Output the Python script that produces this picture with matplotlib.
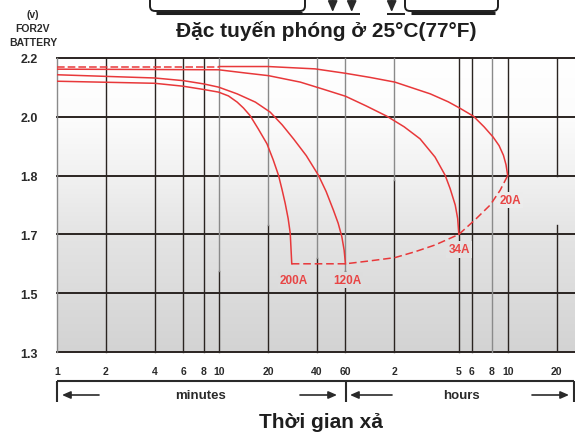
import numpy as np
import matplotlib
matplotlib.use("Agg")
import matplotlib.pyplot as plt
from matplotlib.colors import LinearSegmentedColormap
from matplotlib.patches import FancyBboxPatch, FancyArrowPatch
from matplotlib.lines import Line2D
from matplotlib.ticker import NullLocator

plt.rcParams['font.family'] = ['Liberation Sans', 'DejaVu Sans']
plt.rcParams['font.weight'] = 'bold'

# voltage ticks (evenly spaced on the chart although values are not)
volt_ticks = [1.3, 1.5, 1.7, 1.8, 2.0, 2.2]
volt_labels = ['1.3', '1.5', '1.7', '1.8', '2.0', '2.2']

# time ticks in minutes
time_ticks = [1, 2, 4, 6, 8, 10, 20, 40, 60, 120, 300, 360, 480, 600, 1200]
time_labels = ['1', '2', '4', '6', '8', '10', '20', '40', '60',
               '2', '5', '6', '8', '10', '20']

# discharge curves: time (min) / voltage per cell
t_200 = [1, 4, 6, 8, 9.9, 11.4, 12.9, 14.1, 15.5, 17.4, 19.7, 21.5, 23.2,
         24.4, 25.5, 26.6, 27.4, 28]
v_200 = [2.121, 2.114, 2.104, 2.093, 2.084, 2.071, 2.050, 2.030, 2.004, 1.959,
         1.908, 1.854, 1.801, 1.776, 1.753, 1.727, 1.702, 1.60]

t_120 = [1, 4, 6, 8, 9.9, 12.9, 16.7, 20.6, 24.4, 28.7, 34.4, 40.9, 45.6,
         50.6, 54.1, 57, 58.9, 60]
v_120 = [2.143, 2.132, 2.123, 2.112, 2.101, 2.078, 2.050, 2.016, 1.973, 1.925,
         1.868, 1.801, 1.773, 1.741, 1.719, 1.692, 1.646, 1.60]

t_34 = [1, 9.9, 14.5, 20.1, 31.6, 43.1, 60, 80.5, 108, 138, 173, 214, 247,
        265, 285, 295, 300]
v_34 = [2.162, 2.160, 2.149, 2.140, 2.118, 2.095, 2.070, 2.037, 2.002, 1.966,
        1.925, 1.863, 1.801, 1.778, 1.750, 1.727, 1.70]

t_20_dash = [1, 10]
v_20_dash = [2.168, 2.168]
t_20 = [10, 20, 39, 60, 85, 121, 200, 258, 305, 369, 429, 488, 531, 565, 586, 600]
v_20 = [2.171, 2.171, 2.163, 2.148, 2.134, 2.118, 2.078, 2.051, 2.029, 2.002,
        1.966, 1.931, 1.902, 1.869, 1.837, 1.80]

# cut-off voltage line joining the curve ends
t_end = [28, 60, 85, 121, 161, 214, 300, 378, 468, 539, 600]
v_end = [1.60, 1.60, 1.610, 1.621, 1.641, 1.664, 1.70, 1.725, 1.750, 1.775, 1.80]

# curve labels
lab_text = ['200A', '120A', '34A', '20A']
lab_t = [29.0, 61.5, 301, 622]
lab_v = [1.544, 1.544, 1.649, 1.758]

red = '#e8383a'
grid_c = '#2a2421'
gray_c = '#8a8a8a'
txt_c = '#2a2a2a'

ypos = np.arange(len(volt_ticks))


def fwd(v):
    return np.interp(v, volt_ticks, ypos)


def inv(p):
    return np.interp(p, ypos, volt_ticks)


fig = plt.figure(figsize=(5.75, 4.35), dpi=100)
pos = [57 / 575, 1 - 353 / 435, 1 - 57 / 575, (353 - 59) / 435]

# background gradient
cmap = LinearSegmentedColormap.from_list(
    'bg', [(0, '#d3d3d3'), (0.4, '#e4e4e4'), (0.6, '#f1f1f1'),
           (0.8, '#fcfcfc'), (1.0, '#ffffff')])
bg = fig.add_axes(pos, zorder=0)
bg.imshow(np.linspace(0, 1, 256).reshape(-1, 1), aspect='auto', cmap=cmap,
          extent=[0, 1, 0, 1], origin='lower')
bg.axis('off')

ax = fig.add_axes(pos, zorder=1)
ax.patch.set_visible(False)
ax.set_xscale('log')
ax.set_yscale('function', functions=(fwd, inv))
ax.set_xlim(1, 1560)
ax.set_ylim(1.3, 2.2)
for s in ax.spines.values():
    s.set_visible(False)

# grid lines
for v in volt_ticks:
    ax.axhline(v, color=grid_c, lw=1.4, zorder=2, clip_on=False)

gray_top = {1: 1.3, 10: 1.576, 20: 1.716, 40: 1.619, 60: 1.576, 120: 1.792, 480: 1.3}
for t in time_ticks:
    split = gray_top.get(t, 2.2)
    if t == 1200:
        ax.plot([t, t], [1.3, 1.716], color=grid_c, lw=1.0, zorder=2)
        ax.plot([t, t], [1.8, 2.2], color=grid_c, lw=1.0, zorder=2)
        continue
    if split > 1.3:
        ax.plot([t, t], [1.3, split], color=grid_c, lw=1.0, zorder=2, clip_on=False)
    if split < 2.2:
        ax.plot([t, t], [split, 2.2], color=gray_c, lw=1.0, zorder=2, clip_on=False)

# curves
for tt, vv in [(t_200, v_200), (t_120, v_120), (t_34, v_34), (t_20, v_20)]:
    ax.plot(tt, vv, color=red, lw=1.1, zorder=4, solid_joinstyle='round')
ax.plot(t_20_dash, v_20_dash, color=red, lw=1.1, ls=(0, (5, 2)), zorder=4)
ax.plot(t_end, v_end, color=red, lw=1.1, ls=(0, (5, 2.5)), zorder=4)

for s, t, v in zip(lab_text, lab_t, lab_v):
    ax.text(t, v, s, color='#e84545', fontsize=8.5, fontweight='bold',
            ha='center', va='center', zorder=3,
            bbox=dict(facecolor=cmap(fwd(v) / 5), edgecolor='none', pad=1.5))

ax.set_yticks(volt_ticks, labels=volt_labels)
ax.set_xticks(time_ticks, labels=time_labels)
ax.xaxis.set_minor_locator(NullLocator())
ax.yaxis.set_minor_locator(NullLocator())
ax.tick_params(axis='y', length=0, pad=14, labelsize=9, labelcolor=txt_c)
ax.tick_params(axis='x', length=0, pad=10, labelsize=7.5, labelcolor=txt_c)
for lb in ax.get_xticklabels() + ax.get_yticklabels():
    lb.set_fontweight('bold')

# ---- decorations in pixel coords (converted to inches) ----
tr = fig.dpi_scale_trans


def P(x, y):
    return (x / 100, (435 - y) / 100)


def line(xs, ys, lw=1.5, c=txt_c):
    fig.add_artist(Line2D([x / 100 for x in xs], [(435 - y) / 100 for y in ys],
                          transform=tr, color=c, lw=lw, solid_capstyle='butt'))


def arrow(a, b, ms=10):
    fig.add_artist(FancyArrowPatch(P(*a), P(*b), transform=tr,
                                   arrowstyle='-|>,head_length=0.5,head_width=0.22',
                                   mutation_scale=ms, color=txt_c, lw=1.2,
                                   shrinkA=0, shrinkB=0))


# brackets under the x axis
line([57, 573.5], [382.3, 382.3])
for x in [57, 346, 573.5]:
    line([x, x], [382.3, 403])
arrow((99, 396), (62, 396))
arrow((300, 396), (337, 396))
arrow((392, 396), (350, 396))
arrow((532, 396), (569, 396))
fig.text(200 / 575, 1 - 396 / 435, 'minutes', ha='center', va='center',
         fontsize=9.5, fontweight='bold', color=txt_c)
fig.text(461 / 575, 1 - 396 / 435, 'hours', ha='center', va='center',
         fontsize=9.5, fontweight='bold', color=txt_c)
fig.text(321 / 575, 1 - 423 / 435, 'Thời gian xả', ha='center', va='center',
         fontsize=15, fontweight='bold', color='#1e1e1e')

# titles
fig.text(326 / 575, 1 - 31.5 / 435, 'Đặc tuyến phóng ở 25°C(77°F)',
         ha='center', va='center', fontsize=15, fontweight='bold', color='#1e1e1e')
fig.text(33 / 575, 1 - 15 / 435, '(v)', ha='center', va='center',
         fontsize=7.5, fontweight='bold', color=txt_c)
fig.text(33 / 575, 1 - 29 / 435, 'FOR2V', ha='center', va='center',
         fontsize=7.5, fontweight='bold', color=txt_c)
fig.text(33 / 575, 1 - 43 / 435, 'BATTERY', ha='center', va='center',
         fontsize=7.5, fontweight='bold', color=txt_c)

# boxes and arrows cut at the top edge
for x0, x1 in [(150, 305), (405, 498)]:
    fig.add_artist(FancyBboxPatch(P(x0, 12), (x1 - x0) / 100, 0.3,
                                  boxstyle='round,pad=0,rounding_size=0.05',
                                  transform=tr, fill=False, lw=1.4, ec='#1e1e1e'))
    line([x0 + 6, x1 - 3], [14, 14], lw=2.2, c='#1e1e1e')
line([302, 360], [14.5, 14.5], lw=1.4, c='#1e1e1e')
line([387, 405], [14.5, 14.5], lw=1.4, c='#1e1e1e')
for x in [332.7, 351.7, 391.7]:
    arrow((x, -2), (x, 13), ms=13)

fig.savefig('out.png', dpi=100)
